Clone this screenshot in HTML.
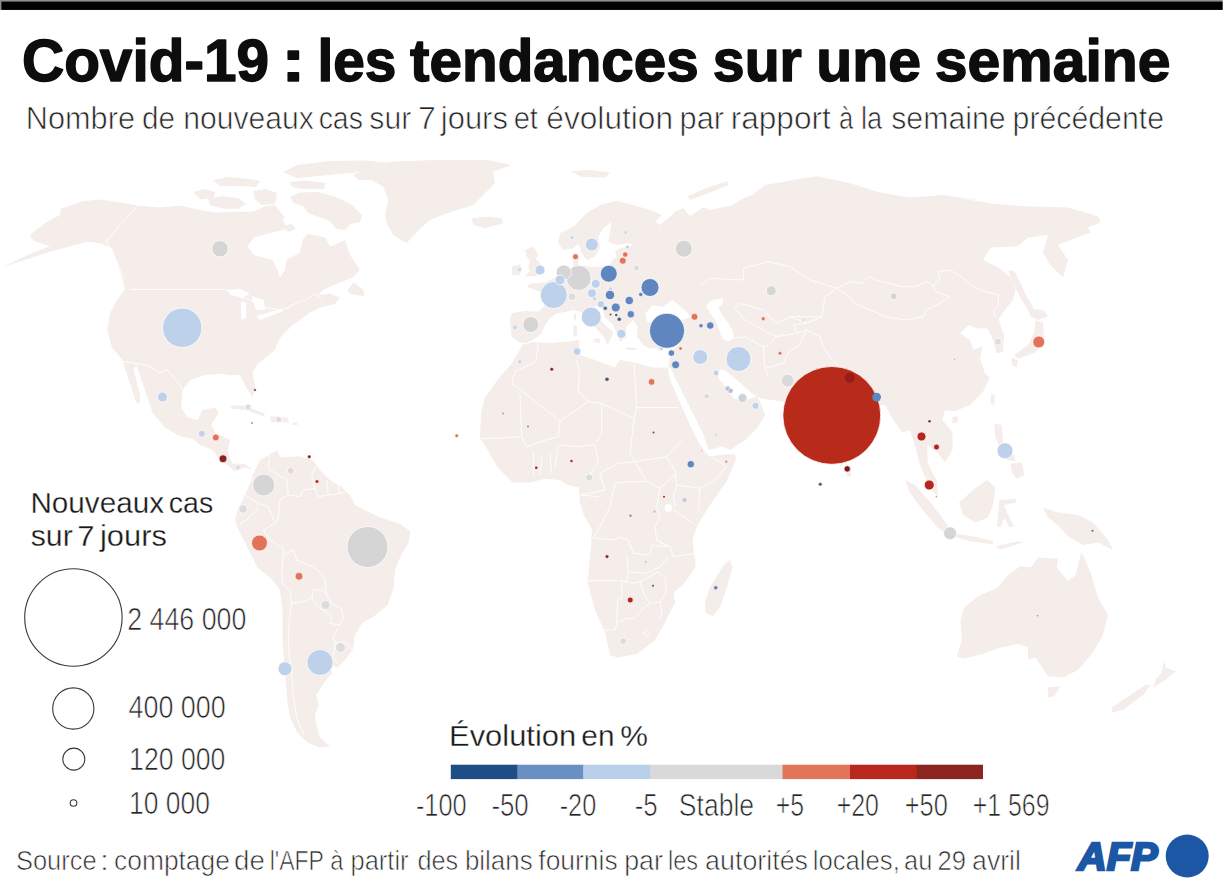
<!DOCTYPE html>
<html lang="fr"><head><meta charset="utf-8"><title>Covid-19 : les tendances sur une semaine</title>
<style>html,body{margin:0;padding:0;background:#fff}svg{display:block}text{font-family:"Liberation Sans",sans-serif}</style></head><body>
<svg width="1224" height="888" viewBox="0 0 1224 888">
<rect width="1224" height="888" fill="#fff"/>
<g fill="#f4edea" stroke="none">
<path d="M3.0,267.0 L15.0,261.2 L32.5,253.0 L50.0,246.2 L33.8,241.2 L30.0,235.0 L43.8,223.8 L60.0,215.0 L61.2,208.8 L82.5,201.2 L100.0,199.5 L120.0,202.5 L137.5,205.5 L160.0,207.5 L180.0,205.5 L200.0,210.0 L215.0,212.5 L237.5,211.8 L252.5,211.8 L265.0,206.2 L275.0,205.0 L285.0,217.5 L282.5,220.0 L287.5,228.8 L272.5,232.5 L253.8,237.5 L247.5,246.2 L253.8,255.0 L272.5,260.0 L277.5,270.0 L280.0,277.5 L285.0,270.0 L286.2,260.0 L300.0,252.5 L302.5,240.0 L307.5,233.8 L325.0,237.5 L330.0,246.2 L340.0,242.5 L345.0,240.0 L350.0,255.0 L360.0,270.0 L352.5,277.5 L340.0,282.5 L325.0,288.8 L317.5,295.0 L330.0,293.8 L340.0,297.5 L335.0,303.8 L320.0,307.5 L310.0,312.5 L300.0,320.0 L292.5,325.0 L282.5,335.0 L277.5,342.5 L275.0,350.0 L262.5,360.0 L250.0,370.0 L260.0,360.0 L252.5,372.5 L255.0,387.5 L252.5,397.5 L245.0,385.0 L240.0,375.0 L230.0,375.0 L220.0,373.8 L205.0,375.0 L190.0,380.0 L182.5,390.0 L181.2,407.5 L187.5,417.5 L197.5,420.0 L202.5,410.0 L215.0,407.5 L218.8,412.5 L211.2,425.0 L215.0,432.5 L230.0,440.0 L227.5,452.5 L232.5,463.8 L245.0,463.8 L252.5,470.0 L245.0,467.5 L235.0,471.2 L227.5,465.0 L220.0,460.0 L212.5,450.0 L200.0,445.0 L192.5,438.8 L180.0,436.2 L165.0,427.5 L152.5,412.5 L145.0,390.0 L136.2,365.0 L133.8,370.0 L140.0,395.0 L140.0,403.8 L136.2,402.5 L128.8,380.0 L123.8,365.0 L122.5,360.0 L111.7,346.7 L107.3,330.0 L110.0,313.3 L116.7,300.0 L125.0,289.3 L121.7,276.7 L116.7,260.0 L111.7,248.3 L100.0,243.3 L86.7,241.7 L50.0,251.7Z"/>
<path d="M193.3,192 L205,189 L215,192 L214,198 L200,199.5Z"/>
<path d="M208,199 L222,196 L238,198 L246,204 L238,209 L222,208.5 L210,205Z"/>
<path d="M213,180 L228,177 L245,178.5 L260,181 L256,187 L238,186 L220,186Z"/>
<path d="M253,191 L266,189 L277,193 L275,204 L262,205 L255,199Z"/>
<path d="M290,182 L305,180.5 L326,183 L324,189 L304,189 L292,187Z"/>
<path d="M283,172 L297,165 L330,161 L365,160.5 L390,163 L385,170 L350,173 L318,176 L297,178Z"/>
<path d="M290,197 L300,192.5 L318,192 L336,197 L352,205 L362,215 L360,222 L350,224 L345,230 L336,229 L330,221 L318,217 L308,213 L303,206 L293,203Z"/>
<path d="M283,226 L292,224 L296,229 L288,232Z"/>
<path d="M353.8,282.5 L363.8,290.0 L363.8,296.2 L350.0,293.8 L347.5,290.0Z"/>
<path d="M353.3,175 L372,166 L391.7,161.7 L433.3,160 L488.3,160 L511.7,165 L493.3,171.7 L495,183.3 L480,198.3 L473.3,205 L446.7,213.3 L430,220 L416.7,231.7 L406.7,243.3 L393.3,235 L386.7,223.3 L385,215 L388.3,200 L383.3,186.7 L371.7,180 L358.3,180Z"/>
<path d="M471.7,218.3 L486.7,216.7 L501.7,218.3 L503.3,223.3 L485,228.3 L473.3,225Z"/>
<path d="M230.0,405.5 L245.0,405.5 L265.0,413.8 L263.8,416.2 L245.0,410.0 L231.2,408.8Z"/>
<path d="M270.0,416.2 L287.5,417.5 L288.8,422.5 L271.2,422.0Z"/>
<path d="M292.5,422.5 L297.5,422.5 L297.5,425.0 L292.5,425.0Z"/>
<path d="M252.5,475.0 L260.0,460.0 L277.5,450.0 L280.0,457.5 L300.0,456.2 L312.5,460.0 L320.0,470.0 L330.0,480.0 L342.5,487.5 L350.0,495.0 L355.0,505.0 L360.0,507.5 L380.0,517.5 L400.0,523.8 L410.0,531.2 L408.8,542.5 L400.0,557.5 L395.0,570.0 L393.8,587.5 L387.5,605.0 L372.5,617.5 L362.5,622.5 L355.0,635.0 L352.5,650.0 L345.0,660.0 L337.5,667.5 L330.0,665.0 L332.5,675.0 L330.0,675.0 L322.5,685.0 L316.2,695.0 L318.8,705.0 L315.0,715.0 L316.2,725.0 L320.0,737.5 L330.0,746.2 L320.0,747.5 L307.5,742.5 L297.5,732.5 L290.0,717.5 L287.5,702.5 L286.2,685.0 L285.0,672.5 L282.5,640.0 L282.5,610.0 L280.0,590.0 L272.5,580.0 L257.5,567.5 L247.5,547.5 L237.5,527.5 L235.0,520.0 L238.8,507.5 L245.0,495.0 L252.5,477.5Z"/>
<path d="M522.5,345.0 L532.5,342.0 L552.5,343.0 L570.0,341.2 L578.8,340.0 L580.0,355.0 L595.0,360.0 L615.0,367.5 L620.0,360.0 L635.0,362.5 L652.5,367.5 L667.5,367.5 L670.0,380.0 L680.0,402.5 L690.0,425.0 L700.0,445.0 L708.8,456.2 L735.0,453.8 L736.2,458.8 L727.5,480.0 L710.0,505.0 L697.5,525.0 L692.5,540.0 L695.0,562.0 L696.2,552.5 L695.0,567.5 L685.0,582.5 L673.8,592.5 L675.0,602.5 L670.0,612.5 L663.8,625.0 L655.0,640.0 L637.5,653.8 L617.5,657.5 L610.0,655.0 L605.0,632.5 L595.0,610.0 L587.5,582.5 L591.2,545.0 L592.5,520.0 L595.0,547.5 L592.5,530.0 L583.8,515.0 L580.0,502.5 L578.8,487.5 L567.5,485.0 L560.0,480.0 L545.0,478.8 L530.0,482.5 L512.5,482.5 L497.5,467.5 L487.5,450.0 L480.0,437.5 L481.2,412.5 L485.0,397.5 L497.5,380.0 L512.5,362.5Z"/>
<path d="M730.0,560.0 L732.5,567.5 L727.5,585.0 L720.0,607.5 L712.5,616.2 L705.5,612.5 L705.0,602.5 L710.0,587.5 L717.5,575.0 L725.0,563.8Z"/>
<path d="M1081.8,552.5 L1090.5,572.5 L1098.0,597.5 L1108.0,615.0 L1103.0,635.0 L1093.0,652.5 L1078.0,670.0 L1063.0,677.5 L1048.0,676.2 L1040.5,665.0 L1035.5,657.5 L1028.0,660.0 L1028.0,647.5 L1018.0,643.8 L1000.5,647.5 L983.0,653.8 L963.0,658.8 L956.8,656.2 L961.8,640.0 L960.5,620.0 L964.2,607.5 L978.0,596.2 L998.0,587.5 L1008.0,575.0 L1020.5,566.2 L1030.5,567.5 L1038.0,557.5 L1058.0,558.8 L1056.8,567.5 L1068.0,581.2 L1075.5,575.0 L1079.2,560.0Z"/>
<path d="M1048.0,687.5 L1060.5,686.2 L1054.2,696.2 L1048.0,697.5Z"/>
<path d="M1164.2,660.0 L1165.5,667.5 L1175.5,671.2 L1165.5,680.0 L1153.0,687.5 L1155.5,680.0 L1161.8,672.5Z"/>
<path d="M1150.5,685.0 L1143.0,695.0 L1123.0,710.0 L1111.8,712.5 L1111.8,707.5 L1130.5,695.0 L1145.5,685.0Z"/>
<path d="M1043.0,507.5 L1058.0,512.5 L1078.0,515.0 L1093.0,522.5 L1108.0,540.0 L1113.0,550.0 L1098.0,542.5 L1083.0,545.0 L1068.0,536.2 L1058.0,525.0 L1048.0,517.5Z"/>
<path d="M959.2,502.5 L973.0,490.0 L986.8,480.0 L995.5,487.5 L993.0,505.0 L988.0,517.5 L975.5,522.5 L963.0,515.0Z"/>
<path d="M955.5,533.8 L973.0,536.2 L993.0,541.2 L993.0,544.5 L970.5,541.2 L955.5,537.0Z"/>
<path d="M616.7,200.8 L633.3,205 L650,210 L661.7,215 L655,221.7 L660,225 L668.3,218.3 L675,211.7 L683.3,208.3 L690,216 L704,207 L710,210 L732.5,205 L745,197.5 L752.5,195.0 L765.0,185.0 L780.0,182.5 L800.0,178.8 L817.5,176.2 L847.5,182.5 L880.0,192.5 L910.0,197.5 L942.5,195.0 L980.0,200.0 L955.5,197.5 L993.0,203.8 L1025.5,206.2 L1068.0,207.5 L1098.0,216.2 L1100.5,222.5 L1088.0,227.5 L1090.5,232.5 L1070.5,240.0 L1058.0,245.0 L1068.0,260.0 L1063.0,277.5 L1050.5,265.0 L1043.0,252.5 L1048.0,235.0 L1028.0,237.5 L1018.0,246.2 L990.5,247.5 L983.0,260.0 L1000.5,268.8 L1010.5,277.5 L1015.5,290.0 L1013.0,300.0 L1003.0,312.5 L998.0,320.0 L998.75,320 L1004,335 L1003,352 L996.7,353.3 L992,337 L987,328.5 L976.7,328.3 L968.3,325 L960,333.3 L970,340 L973.3,350 L982.5,346.5 L980,358.3 L985,373.3 L990.0,377.5 L982.5,392.5 L970.0,405.0 L955.0,411.2 L945.0,410.0 L942.5,420.0 L952.5,432.5 L952.5,450.0 L945.0,462.5 L937.5,452.5 L927.5,445.0 L927.5,462.5 L937.5,482.5 L937.5,497.5 L927.5,482.5 L920.0,465.0 L916.2,450.0 L910.0,430.0 L902.5,432.5 L895.0,422.5 L885.0,405.0 L877.5,405.0 L870.0,420.0 L860.0,440.0 L847.5,457.5 L841.2,466.2 L835.0,457.5 L822.5,435.0 L812.5,415.0 L805.0,417.5 L795.0,415.0 L790.0,402.5 L762.5,398.8 L752.5,393.8 L740.0,382.5 L723,369 L717,371.5 L718.5,378 L727.5,390 L733.75,398.75 L742.5,400 L750.0,398.8 L757.5,396.2 L761.2,405.0 L765.0,415.0 L757.5,427.5 L745.0,440.0 L730.0,450.0 L722.5,446.2 L708.8,450.0 L702.5,432.5 L690.0,407.5 L672.5,372.5 L672.5,370 L668.3,366.7 L670,353.3 L677.5,345 L671.7,345 L660,348.3 L650,348.5 L643.3,345 L636.7,336.7 L638.3,321.7 L645,325 L637.5,326 L633.3,320 L626,327.5 L626.7,336.7 L620,341.7 L616.7,333.3 L613.3,325 L605,317.5 L600,303.3 L596.5,306 L593.75,307.5 L596.25,315 L605,325 L613.75,332.5 L607.5,345 L603.3,336.7 L593.3,325 L583.75,312.5 L573.3,310 L566.7,311.7 L556.7,313.3 L550,318.3 L545,325 L541.7,333.3 L533.3,340 L525,343.3 L518.3,341.7 L511.7,336.7 L510,320 L511.7,313.3 L525,311 L538.3,311.7 L545,305 L542.5,292.5 L526.7,286.7 L530,283.5 L545,282.5 L555,277.5 L565,270 L572.5,268.75 L573.3,266.7 L573.3,253.3 L578.3,253 L578.3,265 L590,266.7 L600,266.7 L610,265 L611.7,260 L616.7,256.7 L615,251.7 L620,248.3 L633.3,245 L628.3,243.3 L616.7,245 L608.3,241.7 L610,231.7 L611.7,221.7 L603.3,228.3 L598.3,236.7 L600,246.7 L595,256.7 L586.7,260 L581.7,253.3 L578.3,243.3 L573.3,248.3 L563.3,250 L558.3,243.3 L560,233.3 L573.3,226.7 L586.7,213.3 L600,205 L616.7,200.8Z"/>
<path d="M533.3,246.7 L538.3,255 L536,259 L543.3,266.7 L541.7,273.3 L535,276 L525,276.5 L530,271 L528.3,266.7 L530,261 L526.7,256.7 L525,250Z"/>
<path d="M512,266 L520,264.5 L521.7,270 L519,275 L511.5,275Z"/>
<path d="M573.3,325 L576.7,325.5 L577,336 L573.5,336.7Z"/>
<path d="M574,313.5 L576,314 L576,320.5 L574,320.5Z"/>
<path d="M593.3,339 L600.5,338.3 L599.5,343.5 L594,342Z"/>
<path d="M626,347.5 L636,348 L636,350 L626,349.5Z"/>
<path d="M657.5,348.5 L664,346.5 L663,350.5 L658,350.5Z"/>
<path d="M687.5,196.2 L707.5,187.5 L727.5,181.2 L728.8,185.0 L710.0,192.5 L690.0,200.0Z"/>
<path d="M570.0,171.2 L590.0,170.0 L610.0,172.5 L605.0,177.5 L582.5,177.0Z"/>
<path d="M1008.3,270 L1015,271.7 L1025,293.3 L1033.3,308.3 L1035,315 L1030,313.3 L1020,297 L1012,281Z"/>
<path d="M1028.0,308.8 L1043.0,310.0 L1048.0,316.2 L1038.0,320.0 L1030.5,316.2Z"/>
<path d="M1035.5,320.0 L1043.0,322.5 L1044.2,340.0 L1035.5,352.5 L1018.0,358.8 L1014.2,355.0 L1028.0,345.0 L1034.2,332.5Z"/>
<path d="M1011.8,357.5 L1018.0,360.0 L1016.8,367.5 L1011.8,365.0Z"/>
<path d="M991.2,393.8 L995.0,395.0 L993.8,405.5 L990.5,402.5Z"/>
<path d="M952.0,417.0 L958.0,416.2 L957.5,422.5 L952.5,423.0Z"/>
<path d="M845.5,464.5 L850.5,467.5 L851.2,476.2 L847.0,477.0 L845.0,470.0Z"/>
<path d="M905.0,480.0 L915.0,485.0 L932.5,505.0 L947.5,525.0 L946.2,533.8 L937.5,527.5 L922.5,510.0 L910.0,492.5Z"/>
<path d="M999.2,500.0 L1015.5,498.8 L1016.8,502.5 L1004.2,505.0 L1008.0,515.0 L1014.2,526.2 L1009.2,527.5 L1004.2,517.5 L1000.5,527.5 L996.8,526.2 L998.5,510.0Z"/>
<path d="M994.2,423.8 L1001.8,425.0 L1003.0,442.5 L1008.0,450.0 L1000.5,448.8 L995.5,437.5Z"/>
<path d="M1010.5,463.8 L1021.8,462.5 L1024.2,475.0 L1016.8,478.8 L1011.8,472.5Z"/>
<path d="M1005.5,453.8 L1014.2,455.0 L1015.5,461.2 L1006.8,460.0Z"/>
<path d="M995.5,546.2 L1018.0,541.2 L1023.0,542.5 L1000.5,549.5Z"/>
</g>
<g fill="#fff" stroke="none">
<path d="M227.5,290.0 L240.0,288.8 L250.0,293.8 L242.5,297.5 L230.0,295.0Z"/>
<path d="M241.2,301.2 L246.2,302.5 L246.2,317.5 L241.2,320.0Z"/>
<path d="M251.2,296.2 L263.8,300.0 L265.0,310.0 L256.2,310.0Z"/>
<path d="M256.2,316.2 L272.5,311.2 L282.5,308.8 L282.5,311.2 L260.0,320.0Z"/>
<path d="M645.0,313.8 L652.5,305.0 L662.5,307.0 L672.5,300.0 L677.5,303.8 L687.5,312.5 L690.0,317.5 L675.0,322.5 L657.5,320.0 L647.5,322.5Z"/>
<path d="M705.8,305.8 L711.7,300 L722.5,298.3 L723.3,303.3 L718.3,308.3 L723.3,316.7 L728.3,323.3 L732.5,330 L734.2,338.3 L728.3,341.7 L721.7,338.3 L719.2,330 L715,320 L709.2,311.7Z"/>
<path d="M665,505 L669,503.5 L672,506 L671.5,511 L667,512.5 L664.5,509Z"/>
</g>
<g fill="none" stroke="#fff" stroke-width="0.9" stroke-linejoin="round">
<path d="M137.5,205.5 L106,241 L112,252 L118,265 L125,280"/>
<path d="M130,289.5 L225,289.5 L235,295 L250,300 L265,307.5 L282.5,310 L297.5,302.5 L305,300 L315,294 L322,299"/>
<path d="M122.5,361.25 L146.25,365 L160,372.5 L167.5,370 L180,385 L182.5,390"/>
<path d="M270,450.8 L268.3,468.3 L280,476.7 L286.7,478.3 L288.3,495 L280,500 L278.3,518.3 L275,523.3"/>
<path d="M245,495 L258.3,503.3 L268.3,506.7 L275,523.3"/>
<path d="M240,523.3 L246.7,520 L256.7,510 L258.3,503.3"/>
<path d="M275,523.3 L263.3,530 L270,540 L283.3,548.3 L283.3,555 L293.3,550 L296.7,560 L313.3,566.7 L321.7,573.3 L325,580 L326.7,595"/>
<path d="M283.3,555 L281.7,571.7 L282.5,583.3 L290,590 L291.7,603.3"/>
<path d="M288.3,495 L300,496.7 L303.3,490 L315,488.3"/>
<path d="M315,466.7 L311.7,476.7 L315,488.3 L318.3,496.7 L328.3,495 L341.7,493.3 L348.3,490"/>
<path d="M326.7,480 L328.3,495"/>
<path d="M336.7,481.7 L340,493.3"/>
<path d="M291.7,603.3 L289.2,620 L288.3,645 L291.7,673.3 L293.3,695 L296.7,718 L304,735"/>
<path d="M291.7,603.3 L303.3,601.7 L311.7,598.3 L313.3,590 L323.3,590 L326.7,595 L333.3,605 L341.7,608.3 L343.3,618.3"/>
<path d="M311.7,598.3 L320,608.3 L331.7,615 L330,623.3 L340,625 L343.3,618.3"/>
<path d="M340,625 L333.3,636.7 L335,643.3 L333.3,656.7 L338.3,665"/>
<path d="M335,643.3 L345,641.7 L351.7,650"/>
<path d="M538.3,343.3 L535.8,361.7 L515,371.7 L511.7,383.3 L560,420.8 L588.3,401.7"/>
<path d="M520,395 L521.7,436.7 L498.3,438.3 L481.7,438.3"/>
<path d="M576.7,360 L579.2,373.3 L578.3,391.7 L588.3,401.7 L601.7,403.3 L634.2,418.3 L636.7,407.5"/>
<path d="M634.2,363.3 L636.7,407.5 L678,407.5"/>
<path d="M601.7,403.3 L601.7,433.3 L595,443.3"/>
<path d="M634.2,418.3 L630,453.3 L635,461.7"/>
<path d="M560,420.8 L558.3,436.7 L540,441.7 L526.7,446.7 L521.7,436.7"/>
<path d="M555,468.3 L558.3,445 L576.7,446.7 L595,445 L598.3,461.7 L588.3,476.7"/>
<path d="M550,453.3 L551.7,473.3"/>
<path d="M541.7,456.7 L540,475"/>
<path d="M533.3,451.7 L533.3,475"/>
<path d="M701.7,450 L726.7,466.7 L713.3,481.7 L700,488.3 L676.7,485 L675,473.3"/>
<path d="M700,488.3 L698.3,510 L701.7,513.3"/>
<path d="M673.3,510 L693.3,523.3"/>
<path d="M676.7,485 L673.3,496.7 L675,506.7"/>
<path d="M615,483.3 L626.7,481.7 L646.7,481.7 L660,488.3 L656.7,506.7 L660,518.3 L655,526.7 L656.7,540 L666.7,546.7 L651.7,545 L650,555 L633.3,553.3 L628.3,540 L618.3,536.7 L616.7,540 L593.3,538.3"/>
<path d="M615,483.3 L610,506.7 L601.7,523.3 L593.3,538.3"/>
<path d="M656.7,540 L670,546.7 L673.3,556.7 L695,553.3"/>
<path d="M626.7,555 L628.3,571.7 L626.7,581.7"/>
<path d="M628.3,571.7 L646.7,573.3 L660,566.7 L668.3,556.7"/>
<path d="M580,495 L605,490 L600,473.3 L618.3,463.3 L635,461.7 L646.7,481.7"/>
<path d="M580,495 L598.3,496.7"/>
<path d="M635,461.7 L666.7,456.7 L676.7,473.3 L660,488.3"/>
<path d="M666.7,456.7 L681.7,440"/>
<path d="M587.5,580.8 L621.7,580.8 L631.7,583.3 L640,581.7"/>
<path d="M621.7,580.8 L621.7,598.3 L617.5,600 L616.7,623.3 L615,630 L603.3,630"/>
<path d="M616.7,623.3 L626.7,618.3 L635,618.3 L645,606.7 L650,603.3"/>
<path d="M640,581.7 L645,596.7 L650,603.3 L660,601.7 L666.7,591.7 L665,578.3 L658.3,571.7 L640,581.7"/>
<path d="M660,601.7 L661.7,613.3 L660,620"/>
<path d="M643.5,633.3 L646.7,630 L650,633.3 L646.7,636.6 L643.5,633.3"/>
<path d="M700,285 L710,278.3 L743.3,280 L743.3,268.3 L768.3,261.7 L790,266.7 L810,280 L836.7,288.3 L825,296.7 L821.7,316.7 L806.7,316.7 L790,316.7 L776.7,323.3 L763.3,310 L740,303.3 L735,308.3"/>
<path d="M836.7,288.3 L850,281.7 L862,283.3 L868.3,276.7 L881.7,281.7 L901.7,286.7 L915,286.7 L926.7,281.7 L933.3,285"/>
<path d="M836.7,288.3 L850,296.7 L855,303.3 L868,309 L885,316.7 L906.7,320 L923.3,316.7 L926.7,310 L940,303.3 L950,296.7 L935,291.7 L933.3,285"/>
<path d="M933.3,285 L940,280 L938.3,271.7 L950,270 L963.3,278.3 L973.3,286.7 L985,291.7 L998.3,295 L998.3,305 L993.3,310 L995,318.3"/>
<path d="M735,308.3 L745,320 L763.3,330 L776.7,336.7 L783.3,333.3"/>
<path d="M730,338.3 L745,336.7 L763.3,346.7 L768.3,345 L776.7,336.7 L796.7,333.3 L806.7,330 L820,336.7 L823.3,346.7 L830,356.7 L840,368.3"/>
<path d="M806.7,330 L798.3,346.7 L790,350 L783.3,363.3 L765,368.3"/>
<path d="M763.3,346.7 L765,368.3 L768.3,378"/>
<path d="M790,316.7 L806.7,323.3 L821.7,316.7"/>
<path d="M796.7,333.3 L793.3,325 L806.7,323.3"/>
</g>
<g>
<circle cx="220" cy="248.75" r="8.25" fill="#d5d5d5" stroke="#fff" stroke-opacity="0.75" stroke-width="1"/>
<circle cx="182.2" cy="327.8" r="19.7" fill="#bdd1ea" stroke="#fff" stroke-opacity="0.75" stroke-width="1"/>
<circle cx="162.5" cy="397" r="5.0" fill="#bdd1ea" stroke="#fff" stroke-opacity="0.75" stroke-width="1"/>
<circle cx="201.75" cy="433.75" r="3.5" fill="#c9cfe8" stroke="#fff" stroke-opacity="0.75" stroke-width="1"/>
<circle cx="215.75" cy="437.5" r="3.5" fill="#e2735a" stroke="#fff" stroke-opacity="0.75" stroke-width="1"/>
<circle cx="223" cy="458.75" r="4.0" fill="#8a2020" stroke="#fff" stroke-opacity="0.75" stroke-width="1"/>
<circle cx="238" cy="467.5" r="2.3" fill="#dcdcdc" stroke="#fff" stroke-opacity="0.75" stroke-width="0.6"/>
<circle cx="255" cy="390" r="1.25" fill="#777"/>
<circle cx="248" cy="407" r="3.0" fill="#dcdcdc" stroke="#fff" stroke-opacity="0.75" stroke-width="1"/>
<circle cx="252" cy="423" r="1" fill="#999"/>
<circle cx="278.75" cy="419.5" r="3.0" fill="#dcdcdc" stroke="#fff" stroke-opacity="0.75" stroke-width="1"/>
<circle cx="309.25" cy="456.75" r="1.8" fill="#8a2020" stroke="#fff" stroke-opacity="0.75" stroke-width="0.6"/>
<circle cx="317" cy="481.5" r="1.8" fill="#b5271c" stroke="#fff" stroke-opacity="0.75" stroke-width="0.6"/>
<circle cx="290.75" cy="470.75" r="3.5" fill="#e3d9d6" stroke="#fff" stroke-opacity="0.75" stroke-width="1"/>
<circle cx="263.75" cy="485" r="11.0" fill="#d5d5d5" stroke="#fff" stroke-opacity="0.75" stroke-width="1"/>
<circle cx="243" cy="509" r="4.25" fill="#dcdcdc" stroke="#fff" stroke-opacity="0.75" stroke-width="1"/>
<circle cx="259.5" cy="543" r="8.0" fill="#e2735a" stroke="#fff" stroke-opacity="0.75" stroke-width="1"/>
<circle cx="367.5" cy="547" r="20.5" fill="#d5d5d5" stroke="#fff" stroke-opacity="0.75" stroke-width="1"/>
<circle cx="299" cy="576.25" r="4.0" fill="#e2735a" stroke="#fff" stroke-opacity="0.75" stroke-width="1"/>
<circle cx="325.5" cy="605" r="4.5" fill="#dcdcdc" stroke="#fff" stroke-opacity="0.75" stroke-width="1"/>
<circle cx="340.5" cy="647.5" r="5.0" fill="#dcdcdc" stroke="#fff" stroke-opacity="0.75" stroke-width="1"/>
<circle cx="320" cy="662.5" r="13.0" fill="#bdd1ea" stroke="#fff" stroke-opacity="0.75" stroke-width="1"/>
<circle cx="285" cy="668.75" r="7.0" fill="#bdd1ea" stroke="#fff" stroke-opacity="0.75" stroke-width="1"/>
<circle cx="553.75" cy="295" r="13.5" fill="#bdd1ea" stroke="#fff" stroke-opacity="0.75" stroke-width="1"/>
<circle cx="578.75" cy="278" r="12.5" fill="#d5d5d5" stroke="#fff" stroke-opacity="0.75" stroke-width="1"/>
<circle cx="563.75" cy="272.5" r="7.5" fill="#d5d5d5" stroke="#fff" stroke-opacity="0.75" stroke-width="1"/>
<circle cx="560" cy="280" r="5.0" fill="#bdd1ea" stroke="#fff" stroke-opacity="0.75" stroke-width="1"/>
<circle cx="540" cy="270" r="5.0" fill="#bdd1ea" stroke="#fff" stroke-opacity="0.75" stroke-width="1"/>
<circle cx="519.5" cy="269.5" r="2.3" fill="#dcdcdc" stroke="#fff" stroke-opacity="0.75" stroke-width="0.6"/>
<circle cx="530.75" cy="324.5" r="8.0" fill="#d5d5d5" stroke="#fff" stroke-opacity="0.75" stroke-width="1"/>
<circle cx="515" cy="327.5" r="2.3" fill="#c9d3e8" stroke="#fff" stroke-opacity="0.75" stroke-width="0.6"/>
<circle cx="591.25" cy="317" r="10.0" fill="#bdd1ea" stroke="#fff" stroke-opacity="0.75" stroke-width="1"/>
<circle cx="572" cy="296.75" r="4.0" fill="#dcdcdc" stroke="#fff" stroke-opacity="0.75" stroke-width="1"/>
<circle cx="592" cy="293.25" r="4.5" fill="#bdd1ea" stroke="#fff" stroke-opacity="0.75" stroke-width="1"/>
<circle cx="595.75" cy="283.75" r="4.5" fill="#bdd1ea" stroke="#fff" stroke-opacity="0.75" stroke-width="1"/>
<circle cx="608.75" cy="273.75" r="8.5" fill="#5f86bf" stroke="#fff" stroke-opacity="0.75" stroke-width="1"/>
<circle cx="591.75" cy="244.5" r="6.5" fill="#bdd1ea" stroke="#fff" stroke-opacity="0.75" stroke-width="1"/>
<circle cx="572" cy="237.5" r="1.8" fill="#bdd1ea" stroke="#fff" stroke-opacity="0.75" stroke-width="0.6"/>
<circle cx="575.5" cy="256.75" r="3.0" fill="#e2735a" stroke="#fff" stroke-opacity="0.75" stroke-width="1"/>
<circle cx="625.75" cy="232.5" r="1.8" fill="#cfd6e2" stroke="#fff" stroke-opacity="0.75" stroke-width="0.6"/>
<circle cx="627.5" cy="247" r="1.8" fill="#bdd1ea" stroke="#fff" stroke-opacity="0.75" stroke-width="0.6"/>
<circle cx="625.25" cy="254.5" r="2.55" fill="#e2735a" stroke="#fff" stroke-opacity="0.75" stroke-width="0.6"/>
<circle cx="622.75" cy="260.75" r="3.5" fill="#e2735a" stroke="#fff" stroke-opacity="0.75" stroke-width="1"/>
<circle cx="636.5" cy="268" r="3.0" fill="#dcdcdc" stroke="#fff" stroke-opacity="0.75" stroke-width="1"/>
<circle cx="650" cy="287.5" r="9.0" fill="#5f86bf" stroke="#fff" stroke-opacity="0.75" stroke-width="1"/>
<circle cx="683.75" cy="248.75" r="8.5" fill="#d5d5d5" stroke="#fff" stroke-opacity="0.75" stroke-width="1"/>
<circle cx="610" cy="295" r="4.75" fill="#5f86bf" stroke="#fff" stroke-opacity="0.75" stroke-width="1"/>
<circle cx="610.5" cy="288.75" r="1.8" fill="#bdd1ea" stroke="#fff" stroke-opacity="0.75" stroke-width="0.6"/>
<circle cx="629.25" cy="300.5" r="4.25" fill="#5f86bf" stroke="#fff" stroke-opacity="0.75" stroke-width="1"/>
<circle cx="640.75" cy="294.5" r="2.05" fill="#5f86bf" stroke="#fff" stroke-opacity="0.75" stroke-width="0.6"/>
<circle cx="615.75" cy="307.5" r="4.5" fill="#5f86bf" stroke="#fff" stroke-opacity="0.75" stroke-width="1"/>
<circle cx="601" cy="304.25" r="3.75" fill="#bdd1ea" stroke="#fff" stroke-opacity="0.75" stroke-width="1"/>
<circle cx="594.5" cy="298.75" r="1.8" fill="#bdd1ea" stroke="#fff" stroke-opacity="0.75" stroke-width="0.6"/>
<circle cx="605.25" cy="308.25" r="2.05" fill="#4a6a96" stroke="#fff" stroke-opacity="0.75" stroke-width="0.6"/>
<circle cx="630.75" cy="314.25" r="3.75" fill="#5f86bf" stroke="#fff" stroke-opacity="0.75" stroke-width="1"/>
<circle cx="610.5" cy="314.5" r="1" fill="#4a6080"/>
<circle cx="616.25" cy="315" r="1.25" fill="#4a6080"/>
<circle cx="619.25" cy="319.25" r="2.05" fill="#4a6080" stroke="#fff" stroke-opacity="0.75" stroke-width="0.6"/>
<circle cx="621.25" cy="333.75" r="4.5" fill="#bdd1ea" stroke="#fff" stroke-opacity="0.75" stroke-width="1"/>
<circle cx="667" cy="330.75" r="17.5" fill="#5f86bf" stroke="#fff" stroke-opacity="0.75" stroke-width="1"/>
<circle cx="694.5" cy="316.75" r="3.5" fill="#e2735a" stroke="#fff" stroke-opacity="0.75" stroke-width="1"/>
<circle cx="701" cy="325.75" r="2.05" fill="#5f86bf" stroke="#fff" stroke-opacity="0.75" stroke-width="0.6"/>
<circle cx="710.25" cy="325.5" r="3.75" fill="#5f86bf" stroke="#fff" stroke-opacity="0.75" stroke-width="1"/>
<circle cx="771.25" cy="290.75" r="5.0" fill="#d5d5d5" stroke="#fff" stroke-opacity="0.75" stroke-width="1"/>
<circle cx="763.25" cy="318.75" r="1.9" fill="#e2735a" stroke="#fff" stroke-opacity="0.75" stroke-width="0.6"/>
<circle cx="780" cy="353.25" r="1.8" fill="#d9706a" stroke="#fff" stroke-opacity="0.75" stroke-width="0.6"/>
<circle cx="738.5" cy="359" r="12.5" fill="#bdd1ea" stroke="#fff" stroke-opacity="0.75" stroke-width="1"/>
<circle cx="700.25" cy="357" r="7.5" fill="#bdd1ea" stroke="#fff" stroke-opacity="0.75" stroke-width="1"/>
<circle cx="671.4" cy="353.1" r="3.25" fill="#5f86bf" stroke="#fff" stroke-opacity="0.75" stroke-width="1"/>
<circle cx="661.25" cy="348.75" r="1.8" fill="#bdd1ea" stroke="#fff" stroke-opacity="0.75" stroke-width="0.6"/>
<circle cx="680.6" cy="348.5" r="1.7" fill="#e2735a" stroke="#fff" stroke-opacity="0.75" stroke-width="0.6"/>
<circle cx="675.6" cy="364.75" r="4.0" fill="#5f86bf" stroke="#fff" stroke-opacity="0.75" stroke-width="1"/>
<circle cx="716.1" cy="373" r="2.7" fill="#bdd1ea" stroke="#fff" stroke-opacity="0.75" stroke-width="0.6"/>
<circle cx="706.75" cy="396.25" r="3.0" fill="#dcdcdc" stroke="#fff" stroke-opacity="0.75" stroke-width="1"/>
<circle cx="727.6" cy="388.6" r="2.5" fill="#b4c0d6" stroke="#fff" stroke-opacity="0.75" stroke-width="0.6"/>
<circle cx="730.6" cy="390.8" r="2.5" fill="#b4c0d6" stroke="#fff" stroke-opacity="0.75" stroke-width="0.6"/>
<circle cx="742.5" cy="398" r="4.5" fill="#cfd2d8" stroke="#fff" stroke-opacity="0.75" stroke-width="1"/>
<circle cx="755.5" cy="405.75" r="3.5" fill="#bdd1ea" stroke="#fff" stroke-opacity="0.75" stroke-width="1"/>
<circle cx="577" cy="351.5" r="3.9" fill="#bdd1ea" stroke="#fff" stroke-opacity="0.75" stroke-width="1"/>
<circle cx="519.75" cy="361.75" r="1.9" fill="#c9cfe8" stroke="#fff" stroke-opacity="0.75" stroke-width="0.6"/>
<circle cx="551.75" cy="369.25" r="1.8" fill="#8a2020" stroke="#fff" stroke-opacity="0.75" stroke-width="0.6"/>
<circle cx="607" cy="379.25" r="2.05" fill="#4a5a70" stroke="#fff" stroke-opacity="0.75" stroke-width="0.6"/>
<circle cx="651.6" cy="381.9" r="3.4" fill="#e2735a" stroke="#fff" stroke-opacity="0.75" stroke-width="1"/>
<circle cx="456.75" cy="435.75" r="1.8" fill="#e2735a" stroke="#fff" stroke-opacity="0.75" stroke-width="0.6"/>
<circle cx="690.75" cy="464.25" r="3.75" fill="#5f86bf" stroke="#fff" stroke-opacity="0.75" stroke-width="1"/>
<circle cx="684.5" cy="500" r="2.55" fill="#c5cbd8" stroke="#fff" stroke-opacity="0.75" stroke-width="0.6"/>
<circle cx="589.25" cy="477.5" r="3.5" fill="#d9dcd9" stroke="#fff" stroke-opacity="0.75" stroke-width="1"/>
<circle cx="571.5" cy="461" r="1.25" fill="#b5271c"/>
<circle cx="536.25" cy="467.75" r="1.25" fill="#8a2020"/>
<circle cx="653.5" cy="432.5" r="1" fill="#555"/>
<circle cx="528" cy="426.5" r="1" fill="#8090a8"/>
<circle cx="503.25" cy="413.5" r="1" fill="#aaa"/>
<circle cx="664" cy="496.75" r="1" fill="#b5271c"/>
<circle cx="654.5" cy="511.5" r="1.25" fill="#e8b8b0"/>
<circle cx="630.5" cy="515.75" r="1.25" fill="#8a96b0"/>
<circle cx="607" cy="556.6" r="1.8" fill="#7a3028" stroke="#fff" stroke-opacity="0.75" stroke-width="0.6"/>
<circle cx="726.25" cy="461.75" r="1.25" fill="#e89a88"/>
<circle cx="630.25" cy="600" r="3.0" fill="#b5271c" stroke="#fff" stroke-opacity="0.75" stroke-width="1"/>
<circle cx="623.25" cy="641.25" r="3.5" fill="#dcdcdc" stroke="#fff" stroke-opacity="0.75" stroke-width="1"/>
<circle cx="715.75" cy="587.75" r="2.05" fill="#6080b8" stroke="#fff" stroke-opacity="0.75" stroke-width="0.6"/>
<circle cx="653" cy="585.75" r="1" fill="#555"/>
<circle cx="645.75" cy="561.75" r="1" fill="#b8c0d0"/>
<circle cx="893.75" cy="296.25" r="3.5" fill="#d5d5d5" stroke="#fff" stroke-opacity="0.75" stroke-width="1"/>
<circle cx="787.6" cy="380.7" r="6.5" fill="#dadada" stroke="#fff" stroke-opacity="0.75" stroke-width="1"/>
<circle cx="831.8" cy="415.4" r="48.9" fill="#b82a1a" stroke="#fff" stroke-opacity="0.75" stroke-width="1"/>
<circle cx="849.8" cy="377.8" r="5" fill="#961d18"/>
<circle cx="876.6" cy="397.1" r="4.4" fill="#5b87c5"/>
<circle cx="847.2" cy="468.9" r="3.2" fill="#7a1c1c" stroke="#fff" stroke-opacity="0.75" stroke-width="1"/>
<circle cx="820.25" cy="484.25" r="1.8" fill="#555" stroke="#fff" stroke-opacity="0.75" stroke-width="0.6"/>
<circle cx="921.5" cy="436.5" r="4.5" fill="#b5271c" stroke="#fff" stroke-opacity="0.75" stroke-width="1"/>
<circle cx="936.5" cy="447" r="3.0" fill="#b5271c" stroke="#fff" stroke-opacity="0.75" stroke-width="1"/>
<circle cx="929.5" cy="421.25" r="1.25" fill="#7a3028"/>
<circle cx="929.25" cy="485" r="5.0" fill="#b5271c" stroke="#fff" stroke-opacity="0.75" stroke-width="1"/>
<circle cx="936.25" cy="496.75" r="0.6" fill="#b5271c"/>
<circle cx="950.1" cy="533.25" r="6.5" fill="#d5d5d5" stroke="#fff" stroke-opacity="0.75" stroke-width="1"/>
<circle cx="1005" cy="450.75" r="8.0" fill="#bdd1ea" stroke="#fff" stroke-opacity="0.75" stroke-width="1"/>
<circle cx="998" cy="341.75" r="3.5" fill="#dcdcdc" stroke="#fff" stroke-opacity="0.75" stroke-width="1"/>
<circle cx="1038.75" cy="342" r="6.0" fill="#e2735a" stroke="#fff" stroke-opacity="0.75" stroke-width="1"/>
<circle cx="954.5" cy="359.25" r="0.75" fill="#e0a8a0"/>
<circle cx="1092.5" cy="530.75" r="1" fill="#666"/>
<circle cx="1037.5" cy="615.75" r="0.75" fill="#c08080"/>
<circle cx="716.2" cy="435" r="1.2" fill="#e3d3d3"/>
<circle cx="701.7" cy="450.8" r="1" fill="#e8c8c4"/>
<circle cx="803.3" cy="320" r="1.7" fill="#dcdcdc" stroke="#fff" stroke-opacity="0.75" stroke-width="0.6"/>
</g>
<rect x="0" y="0" width="1222.6" height="9.9" fill="#8e8e8e"/>
<rect x="1.4" y="1.6" width="1221.2" height="8.3" fill="#000"/>
<text x="21.9" y="80.6" font-size="59.6" fill="#0d0d0d" font-weight="bold" textLength="247.07" lengthAdjust="spacingAndGlyphs" stroke="#0d0d0d" stroke-width="1.5" stroke-linejoin="round">Covid-19</text>
<text x="281.44" y="80.6" font-size="59.6" fill="#0d0d0d" font-weight="bold" textLength="23.67" lengthAdjust="spacingAndGlyphs" stroke="#0d0d0d" stroke-width="1.5" stroke-linejoin="round">:</text>
<text x="317.5" y="80.6" font-size="59.6" fill="#0d0d0d" font-weight="bold" textLength="78.96" lengthAdjust="spacingAndGlyphs" stroke="#0d0d0d" stroke-width="1.5" stroke-linejoin="round">les</text>
<text x="410.11" y="80.6" font-size="59.6" fill="#0d0d0d" font-weight="bold" textLength="288.6" lengthAdjust="spacingAndGlyphs" stroke="#0d0d0d" stroke-width="1.5" stroke-linejoin="round">tendances</text>
<text x="712.82" y="80.6" font-size="59.6" fill="#0d0d0d" font-weight="bold" textLength="89.07" lengthAdjust="spacingAndGlyphs" stroke="#0d0d0d" stroke-width="1.5" stroke-linejoin="round">sur</text>
<text x="816.23" y="80.6" font-size="59.6" fill="#0d0d0d" font-weight="bold" textLength="104.81" lengthAdjust="spacingAndGlyphs" stroke="#0d0d0d" stroke-width="1.5" stroke-linejoin="round">une</text>
<text x="934.84" y="80.6" font-size="59.6" fill="#0d0d0d" font-weight="bold" textLength="235.71" lengthAdjust="spacingAndGlyphs" stroke="#0d0d0d" stroke-width="1.5" stroke-linejoin="round">semaine</text>
<text x="25.79" y="128.6" font-size="31" fill="#262626" textLength="109.18" lengthAdjust="spacingAndGlyphs" stroke="#fff" stroke-width="0.7">Nombre</text>
<text x="142.07" y="128.6" font-size="31" fill="#262626" textLength="33.0" lengthAdjust="spacingAndGlyphs" stroke="#fff" stroke-width="0.7">de</text>
<text x="183.19" y="128.6" font-size="31" fill="#262626" textLength="130.67" lengthAdjust="spacingAndGlyphs" stroke="#fff" stroke-width="0.7">nouveaux</text>
<text x="318.64" y="128.6" font-size="31" fill="#262626" textLength="44.24" lengthAdjust="spacingAndGlyphs" stroke="#fff" stroke-width="0.7">cas</text>
<text x="369.29" y="128.6" font-size="31" fill="#262626" textLength="41.95" lengthAdjust="spacingAndGlyphs" stroke="#fff" stroke-width="0.7">sur</text>
<text x="418.05" y="128.6" font-size="31" fill="#262626" textLength="17.86" lengthAdjust="spacingAndGlyphs" stroke="#fff" stroke-width="0.7">7</text>
<text x="440.82" y="128.6" font-size="31" fill="#262626" textLength="67.06" lengthAdjust="spacingAndGlyphs" stroke="#fff" stroke-width="0.7">jours</text>
<text x="513.67" y="128.6" font-size="31" fill="#262626" textLength="24.29" lengthAdjust="spacingAndGlyphs" stroke="#fff" stroke-width="0.7">et</text>
<text x="546.35" y="128.6" font-size="31" fill="#262626" textLength="126.65" lengthAdjust="spacingAndGlyphs" stroke="#fff" stroke-width="0.7">évolution</text>
<text x="679.61" y="128.6" font-size="31" fill="#262626" textLength="44.46" lengthAdjust="spacingAndGlyphs" stroke="#fff" stroke-width="0.7">par</text>
<text x="730.68" y="128.6" font-size="31" fill="#262626" textLength="100.16" lengthAdjust="spacingAndGlyphs" stroke="#fff" stroke-width="0.7">rapport</text>
<text x="839.12" y="128.6" font-size="31" fill="#262626" textLength="14.26" lengthAdjust="spacingAndGlyphs" stroke="#fff" stroke-width="0.7">à</text>
<text x="861.04" y="128.6" font-size="31" fill="#262626" textLength="21.21" lengthAdjust="spacingAndGlyphs" stroke="#fff" stroke-width="0.7">la</text>
<text x="891.23" y="128.6" font-size="31" fill="#262626" textLength="114.49" lengthAdjust="spacingAndGlyphs" stroke="#fff" stroke-width="0.7">semaine</text>
<text x="1012.58" y="128.6" font-size="31" fill="#262626" textLength="151.43" lengthAdjust="spacingAndGlyphs" stroke="#fff" stroke-width="0.7">précédente</text>
<text x="30.43" y="512.8" font-size="29.3" fill="#1a1a1a" textLength="133.54" lengthAdjust="spacingAndGlyphs" stroke="#fff" stroke-width="0.3">Nouveaux</text>
<text x="168.79" y="512.8" font-size="29.3" fill="#1a1a1a" textLength="44.47" lengthAdjust="spacingAndGlyphs" stroke="#fff" stroke-width="0.3">cas</text>
<text x="30.66" y="546.2" font-size="29.3" fill="#1a1a1a" textLength="42.07" lengthAdjust="spacingAndGlyphs" stroke="#fff" stroke-width="0.3">sur</text>
<text x="77.39" y="546.2" font-size="29.3" fill="#1a1a1a" textLength="17.29" lengthAdjust="spacingAndGlyphs" stroke="#fff" stroke-width="0.3">7</text>
<text x="99.97" y="546.2" font-size="29.3" fill="#1a1a1a" textLength="66.96" lengthAdjust="spacingAndGlyphs" stroke="#fff" stroke-width="0.3">jours</text>
<text x="127.28" y="629.6" font-size="31" fill="#262626" textLength="119.05" lengthAdjust="spacingAndGlyphs" stroke="#fff" stroke-width="0.7">2 446 000</text>
<text x="128.46" y="718.3" font-size="31" fill="#262626" textLength="97.34" lengthAdjust="spacingAndGlyphs" stroke="#fff" stroke-width="0.7">400 000</text>
<text x="129.08" y="769.7" font-size="31" fill="#262626" textLength="96.28" lengthAdjust="spacingAndGlyphs" stroke="#fff" stroke-width="0.7">120 000</text>
<text x="129.07" y="814.4" font-size="31" fill="#262626" textLength="80.93" lengthAdjust="spacingAndGlyphs" stroke="#fff" stroke-width="0.7">10 000</text>
<text x="449.08" y="745.5" font-size="29.3" fill="#1a1a1a" textLength="127.03" lengthAdjust="spacingAndGlyphs" stroke="#fff" stroke-width="0.3">Évolution</text>
<text x="581.33" y="745.5" font-size="29.3" fill="#1a1a1a" textLength="33.15" lengthAdjust="spacingAndGlyphs" stroke="#fff" stroke-width="0.3">en</text>
<text x="620.34" y="745.5" font-size="29.3" fill="#1a1a1a" textLength="27.73" lengthAdjust="spacingAndGlyphs" stroke="#fff" stroke-width="0.3">%</text>
<text x="415.9" y="815.9" font-size="31" fill="#262626" textLength="50.78" lengthAdjust="spacingAndGlyphs" stroke="#fff" stroke-width="0.7">-100</text>
<text x="491.4" y="815.9" font-size="31" fill="#262626" textLength="37.36" lengthAdjust="spacingAndGlyphs" stroke="#fff" stroke-width="0.7">-50</text>
<text x="559.71" y="815.9" font-size="31" fill="#262626" textLength="36.55" lengthAdjust="spacingAndGlyphs" stroke="#fff" stroke-width="0.7">-20</text>
<text x="634.68" y="815.9" font-size="31" fill="#262626" textLength="23.02" lengthAdjust="spacingAndGlyphs" stroke="#fff" stroke-width="0.7">-5</text>
<text x="678.82" y="815.9" font-size="31" fill="#262626" textLength="75.27" lengthAdjust="spacingAndGlyphs" stroke="#fff" stroke-width="0.7">Stable</text>
<text x="775.77" y="815.9" font-size="31" fill="#262626" textLength="28.32" lengthAdjust="spacingAndGlyphs" stroke="#fff" stroke-width="0.7">+5</text>
<text x="836.67" y="815.9" font-size="31" fill="#262626" textLength="42.17" lengthAdjust="spacingAndGlyphs" stroke="#fff" stroke-width="0.7">+20</text>
<text x="904.67" y="815.9" font-size="31" fill="#262626" textLength="43.15" lengthAdjust="spacingAndGlyphs" stroke="#fff" stroke-width="0.7">+50</text>
<text x="972.67" y="815.9" font-size="31" fill="#262626" textLength="76.9" lengthAdjust="spacingAndGlyphs" stroke="#fff" stroke-width="0.7">+1 569</text>
<text x="15.92" y="870.3" font-size="27.8" fill="#2a2a2a" textLength="80.66" lengthAdjust="spacingAndGlyphs" stroke="#fff" stroke-width="0.7">Source</text>
<text x="99.86" y="870.3" font-size="27.8" fill="#2a2a2a" textLength="9.37" lengthAdjust="spacingAndGlyphs" stroke="#fff" stroke-width="0.7">:</text>
<text x="114.11" y="870.3" font-size="27.8" fill="#2a2a2a" textLength="115.71" lengthAdjust="spacingAndGlyphs" stroke="#fff" stroke-width="0.7">comptage</text>
<text x="234.09" y="870.3" font-size="27.8" fill="#2a2a2a" textLength="30.73" lengthAdjust="spacingAndGlyphs" stroke="#fff" stroke-width="0.7">de</text>
<text x="269.74" y="870.3" font-size="27.8" fill="#2a2a2a" textLength="54.23" lengthAdjust="spacingAndGlyphs" stroke="#fff" stroke-width="0.7">l'AFP</text>
<text x="330.21" y="870.3" font-size="27.8" fill="#2a2a2a" textLength="13.09" lengthAdjust="spacingAndGlyphs" stroke="#fff" stroke-width="0.7">à</text>
<text x="350.52" y="870.3" font-size="27.8" fill="#2a2a2a" textLength="58.04" lengthAdjust="spacingAndGlyphs" stroke="#fff" stroke-width="0.7">partir</text>
<text x="417.38" y="870.3" font-size="27.8" fill="#2a2a2a" textLength="40.66" lengthAdjust="spacingAndGlyphs" stroke="#fff" stroke-width="0.7">des</text>
<text x="464.91" y="870.3" font-size="27.8" fill="#2a2a2a" textLength="67.74" lengthAdjust="spacingAndGlyphs" stroke="#fff" stroke-width="0.7">bilans</text>
<text x="538.31" y="870.3" font-size="27.8" fill="#2a2a2a" textLength="79.38" lengthAdjust="spacingAndGlyphs" stroke="#fff" stroke-width="0.7">fournis</text>
<text x="624.16" y="870.3" font-size="27.8" fill="#2a2a2a" textLength="38.68" lengthAdjust="spacingAndGlyphs" stroke="#fff" stroke-width="0.7">par</text>
<text x="668.01" y="870.3" font-size="27.8" fill="#2a2a2a" textLength="30.06" lengthAdjust="spacingAndGlyphs" stroke="#fff" stroke-width="0.7">les</text>
<text x="705.08" y="870.3" font-size="27.8" fill="#2a2a2a" textLength="102.97" lengthAdjust="spacingAndGlyphs" stroke="#fff" stroke-width="0.7">autorités</text>
<text x="812.72" y="870.3" font-size="27.8" fill="#2a2a2a" textLength="87.14" lengthAdjust="spacingAndGlyphs" stroke="#fff" stroke-width="0.7">locales,</text>
<text x="904.09" y="870.3" font-size="27.8" fill="#2a2a2a" textLength="28.22" lengthAdjust="spacingAndGlyphs" stroke="#fff" stroke-width="0.7">au</text>
<text x="937.61" y="870.3" font-size="27.8" fill="#2a2a2a" textLength="28.47" lengthAdjust="spacingAndGlyphs" stroke="#fff" stroke-width="0.7">29</text>
<text x="972.06" y="870.3" font-size="27.8" fill="#2a2a2a" textLength="48.91" lengthAdjust="spacingAndGlyphs" stroke="#fff" stroke-width="0.7">avril</text>
<g fill="none" stroke="#3a3a3a" stroke-width="1.1">
<circle cx="73.4" cy="617.5" r="48.7"/><circle cx="73.3" cy="708.5" r="20.6"/><circle cx="73.8" cy="759.1" r="11"/><circle cx="73.5" cy="803" r="3.3"/>
</g>
<rect x="450.8" y="764.7" width="67.0" height="14.4" fill="#1f4e87"/>
<rect x="517.5" y="764.7" width="66.1" height="14.4" fill="#6a8fc3"/>
<rect x="583.3" y="764.7" width="67.0" height="14.4" fill="#b8cfea"/>
<rect x="650" y="764.7" width="132.8" height="14.4" fill="#d9d9d9"/>
<rect x="782.5" y="764.7" width="67.8" height="14.4" fill="#e07558"/>
<rect x="850" y="764.7" width="67.0" height="14.4" fill="#b8281c"/>
<rect x="916.7" y="764.7" width="66.3" height="14.4" fill="#8c2420"/>
<text x="1077.8" y="869.9" font-size="38.2" font-weight="bold" font-style="italic" fill="#1c57a5" stroke="#1c57a5" stroke-width="2.4" stroke-linejoin="miter" textLength="80" lengthAdjust="spacingAndGlyphs">AFP</text>
<circle cx="1187.2" cy="856" r="21.5" fill="#1c57a5"/>
</svg></body></html>
